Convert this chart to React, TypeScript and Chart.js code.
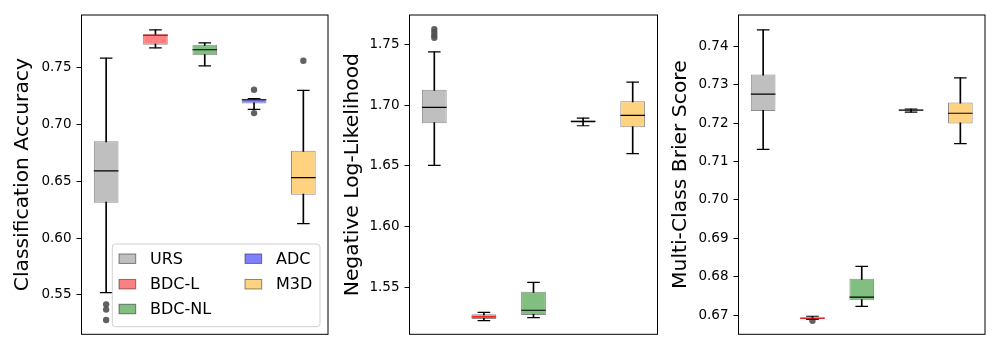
import React, { useEffect, useRef } from 'react';
import { Chart, registerables } from 'chart.js';

Chart.register(...registerables);
Chart.defaults.font.family = "'DejaVu Sans', sans-serif";

// ---- categories & styles ----
const methods = ['URS', 'BDC-L', 'BDC-NL', 'ADC', 'M3D'];
const fillColors = ['rgb(191,191,191)', 'rgb(255,128,128)', 'rgb(128,191,128)', 'rgb(128,128,255)', 'rgb(255,210,128)'];
const medianColors = ['#000000', '#ff0000', '#000000', '#000000', '#000000'];

// ---- Classification Accuracy ----
const accLow = [0.552, 0.767, 0.7512, 0.7129, 0.6126];
const accQ1 = [0.631, 0.7697, 0.7605, 0.7181, 0.638];
const accMedian = [0.659, 0.778, 0.7653, 0.7214, 0.653];
const accQ3 = [0.685, 0.7793, 0.7696, 0.7223, 0.6767];
const accHigh = [0.758, 0.7828, 0.7714, 0.7225, 0.7296];
const accOutliers = [[0.5418, 0.5372, 0.528], [], [], [0.7302, 0.7097], [0.7556]];
const accRange = [0.5155, 0.7958];
const accTicksStep = 0.05;

// ---- Negative Log-Likelihood ----
const nllLow = [1.6504, 1.5225, 1.525, 1.683, 1.66];
const nllQ1 = [1.685, 1.5239, 1.5272, 1.6855, 1.6817];
const nllMedian = [1.6981, 1.5256, 1.5311, 1.6866, 1.6916];
const nllQ3 = [1.7127, 1.5278, 1.5464, 1.6874, 1.7031];
const nllHigh = [1.7439, 1.5294, 1.5541, 1.6893, 1.719];
const nllOutliers = [[1.7626, 1.7601, 1.7575, 1.7554], [], [], [], []];
const nllRange = [1.5113, 1.7742];
const nllTicksStep = 0.05;

// ---- Multi-Class Brier Score ----
const bsLow = [0.7132, 0.6689, 0.6723, 0.7229, 0.7147];
const bsQ1 = [0.7232, 0.669, 0.6739, 0.7233, 0.7199];
const bsMedian = [0.7276, 0.6692, 0.6747, 0.7234, 0.7226];
const bsQ3 = [0.7327, 0.6693, 0.6795, 0.7236, 0.7254];
const bsHigh = [0.7443, 0.6697, 0.6827, 0.7237, 0.7318];
const bsOutliers = [[], [0.6685], [], [], []];
const bsRange = [0.665, 0.7482];
const bsTicksStep = 0.01;

function buildDatasets(low: number[], q1: number[], med: number[], q3: number[], high: number[], outliers: number[][]) {
  const caps: any[] = [];
  methods.forEach((m, i) => {
    caps.push({ x: m, y: low[i] });
    caps.push({ x: m, y: high[i] });
  });
  const meds = methods.map((m, i) => ({ x: m, y: med[i] }));
  const outs: any[] = [];
  outliers.forEach((arr, i) => arr.forEach((v) => outs.push({ x: methods[i], y: v })));
  return [
    {
      type: 'line', data: meds, showLine: false, pointStyle: 'line', pointRadius: 12.3, pointHoverRadius: 12.3,
      pointBorderColor: medianColors, pointBorderWidth: 1.2, pointHoverBorderWidth: 1.2,
    },
    {
      type: 'line', data: caps, showLine: false, pointStyle: 'line', pointRadius: 6.3, pointHoverRadius: 6.3,
      pointBorderColor: '#000', pointBorderWidth: 1.2, pointHoverBorderWidth: 1.2,
    },
    {
      type: 'bar', data: methods.map((_, i) => [q1[i], q3[i]]), backgroundColor: fillColors,
      borderColor: 'rgba(0,0,0,0.45)', borderWidth: 1, borderSkipped: false,
      barPercentage: 0.5, categoryPercentage: 1, grouped: false,
    },
    {
      type: 'bar', data: methods.map((_, i) => [low[i], high[i]]), backgroundColor: '#000',
      borderWidth: 0, barThickness: 1, grouped: false,
    },
    {
      type: 'line', data: outs, showLine: false, pointStyle: 'circle', pointRadius: 3.2, pointHoverRadius: 3.2,
      pointBackgroundColor: 'rgba(80,80,80,0.9)', pointBorderWidth: 0,
    },
  ];
}

const framePlugin = {
  id: 'frameLegend',
  afterDraw(chart: any, _args: any, opts: any) {
    const { ctx, chartArea: a } = chart;
    ctx.save();
    ctx.strokeStyle = '#000';
    ctx.lineWidth = 1;
    ctx.strokeRect(a.left, a.top, a.right - a.left, a.bottom - a.top);
    if (opts && opts.show) {
      const w = 207.7, h = 82.7;
      const x0 = a.right - 8 - w, y0 = a.bottom - 7.6 - h;
      const r = 3;
      ctx.beginPath();
      ctx.moveTo(x0 + r, y0);
      ctx.lineTo(x0 + w - r, y0);
      ctx.arcTo(x0 + w, y0, x0 + w, y0 + r, r);
      ctx.lineTo(x0 + w, y0 + h - r);
      ctx.arcTo(x0 + w, y0 + h, x0 + w - r, y0 + h, r);
      ctx.lineTo(x0 + r, y0 + h);
      ctx.arcTo(x0, y0 + h, x0, y0 + h - r, r);
      ctx.lineTo(x0, y0 + r);
      ctx.arcTo(x0, y0, x0 + r, y0, r);
      ctx.closePath();
      ctx.fillStyle = 'rgba(255,255,255,0.8)';
      ctx.fill();
      ctx.strokeStyle = '#d0d0d0';
      ctx.stroke();
      ctx.font = "16px 'DejaVu Sans', sans-serif";
      ctx.textBaseline = 'middle';
      ctx.textAlign = 'left';
      const rowY = [14.7, 40.2, 65];
      const colHandle = [6.7, 132.7];
      const colText = [37.7, 163.7];
      methods.forEach((m, i) => {
        const col = i < 3 ? 0 : 1;
        const row = i % 3;
        const cy = y0 + rowY[row];
        const hx = x0 + colHandle[col];
        ctx.fillStyle = fillColors[i];
        ctx.fillRect(hx, cy - 4.75, 16.7, 9.5);
        ctx.strokeStyle = 'rgba(0,0,0,0.45)';
        ctx.strokeRect(hx, cy - 4.75, 16.7, 9.5);
        ctx.fillStyle = '#000';
        ctx.fillText(m, x0 + colText[col], cy + 1);
      });
    }
    ctx.restore();
  },
};

function makeConfig(p: any) {
  return {
    type: 'bar',
    data: {
      labels: methods,
      datasets: buildDatasets(p.low, p.q1, p.med, p.q3, p.high, p.outliers),
    },
    options: {
      animation: false,
      responsive: false,
      events: [],
      layout: { autoPadding: false, padding: { left: 0, right: p.padRight, top: 15, bottom: 15.7 } },
      plugins: {
        legend: { display: false },
        tooltip: { enabled: false },
        frameLegend: { show: p.legend },
      },
      scales: {
        x: { display: false, offset: true, grid: { display: false }, ticks: { display: false } },
        y: {
          min: p.range[0],
          max: p.range[1],
          afterFit: (s: any) => { s.width = p.yWidth; },
          border: { display: false },
          grid: { drawOnChartArea: false, drawTicks: true, tickLength: 5, tickColor: '#000', tickWidth: 1 },
          ticks: {
            stepSize: p.step,
            includeBounds: false,
            color: '#000',
            padding: 5,
            font: { size: 13.5 },
            callback: (v: any) => Number(v).toFixed(2),
          },
          title: {
            display: true,
            text: p.title,
            color: '#000',
            font: { size: 20.3 },
            padding: { top: 10.1, bottom: 0 },
          },
        },
      },
    },
    plugins: [framePlugin],
  };
}

function Panel({ left, width, params }: any) {
  const ref = useRef<HTMLCanvasElement | null>(null);
  useEffect(() => {
    if (!ref.current) return;
    const chart = new Chart(ref.current, makeConfig(params) as any);
    return () => chart.destroy();
  }, []);
  return (
    <canvas
      ref={ref}
      width={width}
      height={350}
      style={{ position: 'absolute', left, top: 0, width, height: 350 }}
    />
  );
}

export default function App() {
  return (
    <div style={{ position: 'absolute', left: 0, top: 0, width: 1000, height: 350, background: '#fff' }}>
      <Panel
        left={0}
        width={335}
        params={{
          low: accLow, q1: accQ1, med: accMedian, q3: accQ3, high: accHigh, outliers: accOutliers,
          range: accRange, step: accTicksStep, title: 'Classification Accuracy', yWidth: 81.5, padRight: 7, legend: true,
        }}
      />
      <Panel
        left={330}
        width={335}
        params={{
          low: nllLow, q1: nllQ1, med: nllMedian, q3: nllQ3, high: nllHigh, outliers: nllOutliers,
          range: nllRange, step: nllTicksStep, title: 'Negative Log-Likelihood', yWidth: 79.5, padRight: 7.5, legend: false,
        }}
      />
      <Panel
        left={658}
        width={342}
        params={{
          low: bsLow, q1: bsQ1, med: bsMedian, q3: bsQ3, high: bsHigh, outliers: bsOutliers,
          range: bsRange, step: bsTicksStep, title: 'Multi-Class Brier Score', yWidth: 80.5, padRight: 15, legend: false,
        }}
      />
    </div>
  );
}
